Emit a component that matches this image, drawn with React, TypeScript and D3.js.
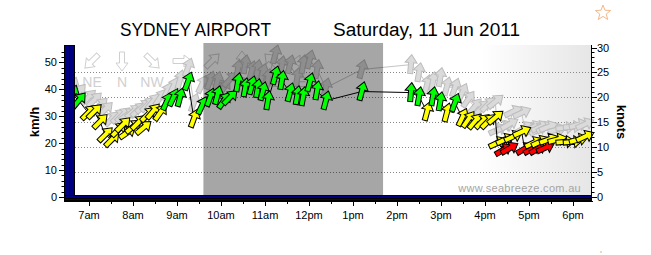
import React from 'react';
import * as d3 from 'd3';

// observation times (local), wind speed (km/h), gust (km/h), direction wind comes from (deg)
const times = [
  "06:38","06:46","06:59","07:07","07:15","07:22","07:31","07:40","07:46","07:52",
  "08:00","08:07","08:14","08:20","08:27","08:37","08:46","08:55","09:04","09:15",
  "09:23","09:34","09:45","09:55","10:04","10:12","10:23","10:33","10:42","10:50",
  "10:57","11:04","11:14","11:23","11:34","11:44","11:52","12:01","12:11","12:23",
  "13:12","14:19","14:30","14:41","14:49","14:59","15:08","15:19","15:29","15:37",
  "15:46","15:56","16:04","16:14","16:17","16:25","16:27","16:33","16:38","16:50",
  "16:54","17:04","17:06","17:12","17:15","17:22","17:26","17:38","17:49","17:59",
  "18:07","18:16"
];
const speedKmh = [
  38.0,35.8,31.3,31.7,28.0,23.1,21.3,25.0,26.8,23.9,
  26.1,27.6,25.7,30.6,31.7,31.3,35.4,36.9,36.9,42.9,
  29.1,33.9,36.9,37.7,35.8,36.9,42.5,40.6,41.4,40.3,
  39.2,35.8,45.1,43.3,38.8,37.7,37.3,42.5,39.5,35.8,
  39.2,38.8,37.3,31.7,37.3,35.4,31.3,35.0,29.5,28.7,
  28.0,28.0,28.0,29.5,20.1,17.5,21.3,18.0,22.4,24.2,
  17.9,17.9,20.1,17.9,20.5,18.3,21.3,21.3,20.5,20.5,
  21.3,22.4
];
const gustKmh = [
  41.0,39.0,37.0,36.0,34.0,32.5,29.0,30.0,30.5,30.5,
  31.7,32.4,33.6,34.3,35.4,36.9,39.1,41.0,43.6,48.1,
  35.0,41.8,43.2,43.0,40.6,43.6,47.4,49.2,47.0,47.4,
  46.0,44.0,52.9,48.8,49.2,44.4,49.2,51.0,47.4,40.6,
  47.4,49.2,46.2,41.8,42.9,44.4,41.0,40.6,38.8,36.2,
  33.6,33.2,34.3,35.4,25.0,26.0,26.1,27.0,31.7,31.3,
  25.7,25.0,26.0,25.0,26.0,25.7,26.0,25.0,25.7,26.1,
  26.8,27.0
];
const dirFrom = [
  200,220,225,225,225,225,225,225,225,235,
  230,225,230,225,220,215,205,205,195,200,
  200,205,200,195,215,225,190,190,195,190,
  195,190,195,190,195,190,190,195,190,195,
  195,185,190,195,190,190,195,200,205,215,
  220,225,225,230,245,240,245,240,245,245,
  240,240,245,240,245,245,250,255,265,265,
  255,245
];

const hourLabels = ["7am","8am","9am","10am","11am","12pm","1pm","2pm","3pm","4pm","5pm","6pm"];
const hourValues = [7,8,9,10,11,12,13,14,15,16,17,18];
const compassLabels = ["NE","N","NW","W","SW","S","SE","E"];
const compassBearings = [45,0,315,270,225,180,135,90];
const kmhTicks = [0,10,20,30,40,50];
const knotTicks = [0,5,10,15,20,25,30];
const shadeRange = ["09:36","13:41"];

const toMin = (s: string) => { const [h, m] = s.split(":").map(Number); return h * 60 + m; };

const ARROW = "M0,-10 L6,-2 L2.5,-2 L2.5,9 L-2.5,9 L-2.5,-2 L-6,-2 Z";

function colorFor(kmh: number) {
  const kn = kmh / 1.852;
  if (kn < 10) return "#ff0000";
  if (kn < 18) return "#ffff00";
  return "#00ff00";
}

export default function App() {
  const x = d3.scaleLinear().domain([420, 1080]).range([89, 573]);
  const yKn = d3.scaleLinear().domain([0, 30]).range([197, 47.5]);
  const yK = (v: number) => yKn(v / 1.852);

  const left = 75, right = 591, top = 44, bottom = 195;

  const pts = times.map((t, i) => ({
    x: x(toMin(t)), ys: yK(speedKmh[i]), yg: yK(gustKmh[i]), dir: dirFrom[i], sp: speedKmh[i],
  }));
  const line = d3.line<[number, number]>();
  const speedPath = line(pts.map(p => [p.x, p.ys] as [number, number])) || "";
  const gustPath = line(pts.map(p => [p.x, p.yg] as [number, number])) || "";

  const minorKmh = d3.range(0, 56, 2);
  const minorKn = d3.range(0, 31, 1);
  const halfHours = d3.range(420, 1081, 30);

  const sx0 = x(toMin(shadeRange[0]));
  const sx1 = x(toMin(shadeRange[1]));

  const starPts = d3.range(10).map(i => {
    const r = i % 2 === 0 ? 8 : 3.4;
    const a = -Math.PI / 2 + i * Math.PI / 5;
    return [603 + r * Math.cos(a), 13 + r * Math.sin(a)].join(",");
  }).join(" ");

  const font = "'Liberation Sans', Arial, sans-serif";

  return (
    <svg width={651} height={255} style={{ position: "absolute", left: 0, top: 0, background: "#fff" }} fontFamily={font}>
      <defs>
        <linearGradient id="rg" x1="0" x2="1" y1="0" y2="0">
          <stop offset="0" stopColor="#ffffff" />
          <stop offset="1" stopColor="#e6e6e6" />
        </linearGradient>
      </defs>
      <rect x={0} y={0} width={651} height={255} fill="#fff" />
      {/* right gradient background */}
      <rect x={480} y={top + 1} width={right - 480} height={bottom - top - 1} fill="url(#rg)" />

      {/* gridlines at knots */}
      {[5, 10, 15, 20, 25].map(k => (
        <line key={k} x1={left} x2={right} y1={Math.round(yKn(k)) + 0.5} y2={Math.round(yKn(k)) + 0.5}
          stroke="#888" strokeDasharray="1,2" />
      ))}

      {/* compass legend */}
      {compassLabels.map((lab, i) => {
        const cx = 92 + i * 30;
        return (
          <g key={lab}>
            <path d={ARROW} transform={`translate(${cx},61) rotate(${compassBearings[i] - 180})`}
              fill="none" stroke="#cfcfcf" strokeWidth={1} />
            <text x={cx} y={87} textAnchor="middle" fontSize={14} fill="#d0d0d0">{lab}</text>
          </g>
        );
      })}

      {/* gusts */}
      <path d={gustPath} fill="none" stroke="#c4c4c4" strokeWidth={1} />
      {pts.map((p, i) => (
        <path key={"g" + i} d={ARROW} transform={`translate(${p.x},${p.yg}) rotate(${p.dir - 180})`}
          fill="#dadada" stroke="#bcbcbc" strokeWidth={1} />
      ))}

      {/* shaded period */}
      <rect x={sx0} y={43} width={sx1 - sx0} height={bottom - 43} fill="#000" fillOpacity={0.35} />

      {/* speed line and arrows */}
      <path d={speedPath} fill="none" stroke="#000" strokeWidth={1} />
      {pts.map((p, i) => (
        <path key={"s" + i} d={ARROW} transform={`translate(${p.x},${p.ys}) rotate(${p.dir - 180})`}
          fill={colorFor(p.sp)} stroke="#000" strokeWidth={1} />
      ))}

      <text x={581} y={192} textAnchor="end" fontSize={11} fill="#a4a4a4" letterSpacing={0.3}>www.seabreeze.com.au</text>

      {/* left wall */}
      <rect x={64.5} y={45.5} width={10} height={155} fill="#000080" stroke="#000" />
      <line x1={69.5} x2={69.5} y1={45.5} y2={200.5} stroke="#000" />
      {/* floor */}
      <rect x={64.5} y={195.5} width={527} height={5} fill="#000080" stroke="#000" />
      <line x1={64.5} x2={591.5} y1={198.5} y2={198.5} stroke="#000" />

      {/* left axis */}
      <line x1={64.5} x2={64.5} y1={45} y2={201} stroke="#000" />
      {minorKmh.map(v => (
        <line key={"lm" + v} x1={61.5} x2={64.5} y1={Math.round(yK(v)) + 0.5} y2={Math.round(yK(v)) + 0.5} stroke="#000" />
      ))}
      {kmhTicks.map(v => (
        <g key={"lk" + v}>
          <line x1={59} x2={64.5} y1={Math.round(yK(v)) + 0.5} y2={Math.round(yK(v)) + 0.5} stroke="#000" />
          <text x={57} y={yK(v) + 4} textAnchor="end" fontSize={11} fill="#000">{v}</text>
        </g>
      ))}
      <text transform="translate(39,122) rotate(-90)" textAnchor="middle" fontSize={13} fontWeight="bold" fill="#000">km/h</text>

      {/* right axis */}
      <line x1={591.5} x2={591.5} y1={45} y2={201} stroke="#000" />
      {minorKn.map(v => (
        <line key={"rm" + v} x1={591.5} x2={594.5} y1={Math.round(yKn(v)) + 0.5} y2={Math.round(yKn(v)) + 0.5} stroke="#000" />
      ))}
      {knotTicks.map(v => (
        <g key={"rk" + v}>
          <line x1={591.5} x2={597} y1={Math.round(yKn(v)) + 0.5} y2={Math.round(yKn(v)) + 0.5} stroke="#000" />
          <text x={597} y={yKn(v) + 4} textAnchor="start" fontSize={11} fill="#000">{v}</text>
        </g>
      ))}
      <text transform="translate(617,122) rotate(90)" textAnchor="middle" fontSize={13} fontWeight="bold" fill="#000">knots</text>

      {/* bottom axis */}
      <line x1={64} x2={593} y1={201.5} y2={201.5} stroke="#000" />
      {halfHours.map(m => (
        <line key={"hh" + m} x1={Math.round(x(m)) + 0.5} x2={Math.round(x(m)) + 0.5} y1={201.5}
          y2={m % 60 === 0 ? 206 : 204} stroke="#000" />
      ))}
      {hourValues.map((h, i) => (
        <text key={"hl" + h} x={x(h * 60)} y={219} textAnchor="middle" fontSize={11} fill="#000">{hourLabels[i]}</text>
      ))}

      {/* title */}
      <text x={120} y={36} fontSize={18} fill="#000" textLength={151} lengthAdjust="spacingAndGlyphs">SYDNEY AIRPORT</text>
      <text x={333} y={36} fontSize={18} fill="#000" textLength={187} lengthAdjust="spacingAndGlyphs">Saturday, 11 Jun 2011</text>

      {/* star */}
      <polygon points={starPts} fill="none" stroke="#f5b888" strokeWidth={1} />
      <circle cx={601} cy={252} r={1} fill="#f5c8a0" />
    </svg>
  );
}
